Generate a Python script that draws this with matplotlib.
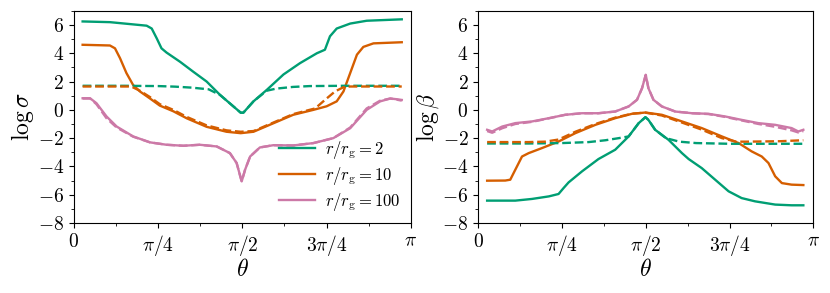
import numpy as np
import matplotlib
matplotlib.use('Agg')
import matplotlib.pyplot as plt
from matplotlib.ticker import MultipleLocator, FixedLocator

plt.rcParams['font.family'] = 'serif'
plt.rcParams['font.serif'] = ['DejaVu Serif']
plt.rcParams['mathtext.fontset'] = 'cm'

# colours for r/rg = 2, 10, 100
c2, c10, c100 = '#009e73', '#d55e00', '#cc79a7'

# ---- left panel: log sigma (theta in units of pi) ----
sig2_t = [0.026, 0.107, 0.216, 0.231, 0.246, 0.260, 0.275, 0.315, 0.354, 0.394, 0.434, 0.473, 0.495,
          0.503, 0.533, 0.572, 0.622, 0.671, 0.721, 0.745, 0.760, 0.780, 0.820, 0.869, 0.973]
sig2 = [6.25, 6.2, 5.95, 5.75, 5.05, 4.35, 4.05, 3.4, 2.7, 2.0, 1.05, 0.25, -0.2,
        -0.2, 0.6, 1.4, 2.5, 3.3, 4.0, 4.25, 5.2, 5.75, 6.1, 6.3, 6.4]
sig2d_t = [0.026, 0.15, 0.25, 0.30, 0.35, 0.40, 0.434, 0.473, 0.495, 0.503, 0.533, 0.572, 0.60, 0.65, 0.70, 0.80, 0.973]
sig2d = [1.7, 1.7, 1.68, 1.64, 1.57, 1.45, 1.05, 0.25, -0.2, -0.2, 0.6, 1.35, 1.5, 1.62, 1.68, 1.7, 1.7]

sig10_t = [0.026, 0.107, 0.122, 0.137, 0.156, 0.176, 0.196, 0.226, 0.255, 0.295, 0.335, 0.394, 0.453,
           0.495, 0.533, 0.592, 0.651, 0.711, 0.750, 0.780, 0.800, 0.820, 0.840, 0.859, 0.889, 0.973]
sig10 = [4.6, 4.55, 4.35, 3.65, 2.6, 1.75, 1.3, 0.8, 0.3, -0.1, -0.6, -1.2, -1.55,
         -1.65, -1.55, -0.95, -0.35, 0.0, 0.25, 0.6, 1.3, 2.6, 3.9, 4.45, 4.7, 4.78]
sig10d_t = [0.026, 0.17, 0.196, 0.226, 0.255, 0.295, 0.335, 0.394, 0.453, 0.495, 0.533, 0.592, 0.651,
            0.716, 0.745, 0.775, 0.80, 0.82, 0.973]
sig10d = [1.65, 1.65, 1.35, 0.9, 0.4, 0.0, -0.5, -1.1, -1.45, -1.55, -1.5, -0.9, -0.3,
          0.1, 0.7, 1.3, 1.6, 1.65, 1.65]

sig100_t = [0.026, 0.048, 0.067, 0.097, 0.127, 0.176, 0.226, 0.275, 0.325, 0.374, 0.424, 0.463, 0.483,
            0.498, 0.508, 0.523, 0.552, 0.592, 0.651, 0.711, 0.770, 0.820, 0.869, 0.909, 0.939, 0.958, 0.973]
sig100 = [0.82, 0.82, 0.47, -0.47, -1.18, -1.88, -2.3, -2.47, -2.54, -2.47, -2.59, -3.06, -3.76,
          -5.06, -4.24, -3.3, -2.66, -2.5, -2.52, -2.35, -2.0, -1.3, 0.0, 0.6, 0.8, 0.75, 0.7]
sig100d = [0.8, 0.8, 0.4, -0.6, -1.25, -1.9, -2.3, -2.47, -2.54, -2.47, -2.59, -3.06, -3.76,
           -5.06, -4.24, -3.3, -2.66, -2.5, -2.52, -2.35, -2.0, -1.25, 0.1, 0.65, 0.8, 0.72, 0.65]

# ---- right panel: log beta ----
bet2_t = [0.027, 0.111, 0.161, 0.211, 0.240, 0.255, 0.270, 0.310, 0.359, 0.409, 0.449, 0.479, 0.499,
          0.508, 0.528, 0.568, 0.608, 0.628, 0.667, 0.707, 0.747, 0.786, 0.826, 0.886, 0.935, 0.970]
bet2 = [-6.42, -6.42, -6.3, -6.12, -5.95, -5.53, -5.13, -4.35, -3.48, -2.82, -1.88, -0.94, -0.52,
        -0.71, -1.41, -2.12, -3.06, -3.48, -4.12, -4.94, -5.76, -6.24, -6.47, -6.7, -6.75, -6.75]
bet2d_t = [0.027, 0.15, 0.25, 0.33, 0.38, 0.42, 0.449, 0.479, 0.499, 0.508, 0.528, 0.56, 0.60, 0.65, 0.75, 0.970]
bet2d = [-2.38, -2.38, -2.35, -2.28, -2.15, -2.0, -1.88, -0.94, -0.52, -0.71, -1.41, -2.0, -2.25, -2.35, -2.4, -2.4]

bet10_t = [0.027, 0.081, 0.096, 0.106, 0.131, 0.151, 0.191, 0.240, 0.290, 0.350, 0.409, 0.459, 0.499,
           0.548, 0.608, 0.667, 0.727, 0.777, 0.816, 0.846, 0.866, 0.886, 0.906, 0.935, 0.970]
bet10 = [-5.01, -5.0, -4.94, -4.47, -3.3, -3.06, -2.7, -2.24, -1.65, -1.06, -0.59, -0.28, -0.19,
         -0.35, -0.82, -1.29, -1.88, -2.35, -2.94, -3.3, -3.76, -4.7, -5.18, -5.29, -5.32]
bet10d_t = [0.027, 0.15, 0.20, 0.240, 0.290, 0.350, 0.409, 0.459, 0.499, 0.548, 0.608, 0.667, 0.727,
            0.77, 0.80, 0.90, 0.970]
bet10d = [-2.28, -2.28, -2.25, -2.1, -1.55, -1.0, -0.55, -0.27, -0.2, -0.4, -0.9, -1.4, -2.0,
          -2.25, -2.25, -2.22, -2.15]

bet100_t = [0.027, 0.042, 0.072, 0.111, 0.161, 0.211, 0.260, 0.310, 0.359, 0.409, 0.449, 0.474, 0.489,
            0.500, 0.508, 0.523, 0.548, 0.588, 0.638, 0.687, 0.737, 0.786, 0.836, 0.886, 0.935, 0.955, 0.970]
bet100 = [-1.41, -1.53, -1.18, -0.94, -0.82, -0.59, -0.35, -0.24, -0.24, -0.12, 0.24, 0.71, 1.53,
          2.47, 1.53, 0.71, 0.24, -0.12, -0.24, -0.28, -0.47, -0.71, -0.94, -1.06, -1.29, -1.53, -1.41]
bet100d = [-1.5, -1.62, -1.3, -1.0, -0.85, -0.6, -0.35, -0.24, -0.24, -0.12, 0.24, 0.71, 1.53,
           2.47, 1.53, 0.71, 0.24, -0.12, -0.24, -0.3, -0.5, -0.75, -1.0, -1.2, -1.45, -1.6, -1.5]

labels = [r'$r/r_{\rm g} = 2$', r'$r/r_{\rm g} = 10$', r'$r/r_{\rm g} = 100$']

fig = plt.figure(figsize=(8.3, 2.93), dpi=100)
ax1 = fig.add_axes([0.089, 0.239, 0.406, 0.724])
ax2 = fig.add_axes([0.576, 0.239, 0.404, 0.724])

lw = 1.7
pi = np.pi
ax1.plot(np.array(sig2_t) * pi, sig2, color=c2, lw=lw, label=labels[0])
ax1.plot(np.array(sig10_t) * pi, sig10, color=c10, lw=lw, label=labels[1])
ax1.plot(np.array(sig100_t) * pi, sig100, color=c100, lw=lw, label=labels[2])
ax1.plot(np.array(sig2d_t) * pi, sig2d, color=c2, lw=lw, ls='--')
ax1.plot(np.array(sig10d_t) * pi, sig10d, color=c10, lw=lw, ls='--')
ax1.plot(np.array(sig100_t) * pi, sig100d, color=c100, lw=lw, ls='--')

ax2.plot(np.array(bet2_t) * pi, bet2, color=c2, lw=lw)
ax2.plot(np.array(bet10_t) * pi, bet10, color=c10, lw=lw)
ax2.plot(np.array(bet100_t) * pi, bet100, color=c100, lw=lw)
ax2.plot(np.array(bet2d_t) * pi, bet2d, color=c2, lw=lw, ls='--')
ax2.plot(np.array(bet10d_t) * pi, bet10d, color=c10, lw=lw, ls='--')
ax2.plot(np.array(bet100_t) * pi, bet100d, color=c100, lw=lw, ls='--')

xticks = [0, pi / 4, pi / 2, 3 * pi / 4, pi]
xticklabels = [r'$0$', r'$\pi/4$', r'$\pi/2$', r'$3\pi/4$', r'$\pi$']
yticks = [-8, -6, -4, -2, 0, 2, 4, 6]

for ax, yl in [(ax1, r'$\log\sigma$'), (ax2, r'$\log\beta$')]:
    ax.set_xlim(0, pi)
    ax.set_ylim(-8, 7)
    ax.set_xticks(xticks)
    ax.set_xticklabels(xticklabels)
    ax.xaxis.set_minor_locator(FixedLocator(np.arange(1, 8, 2) * pi / 8))
    ax.set_yticks(yticks)
    ax.set_yticklabels([r'$%d$' % v for v in yticks])
    ax.yaxis.set_minor_locator(MultipleLocator(1))
    ax.tick_params(labelsize=14)
    ax.set_xlabel(r'$\theta$', fontsize=17, labelpad=0)
    ax.set_ylabel(yl, fontsize=17, labelpad=1)

ax1.legend(loc='lower right', frameon=False, fontsize=12, handlelength=2.2,
           borderaxespad=0.2, labelspacing=0.25, handletextpad=0.6)

fig.savefig('out.png', dpi=100)
